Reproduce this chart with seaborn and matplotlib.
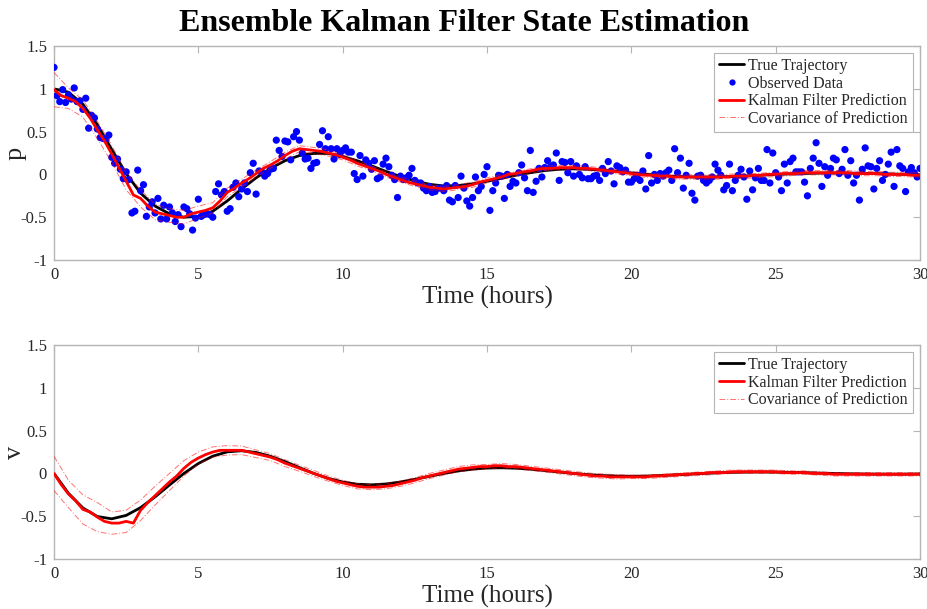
import numpy as np
import matplotlib
matplotlib.use("Agg")
import matplotlib.pyplot as plt
import seaborn as sns
from matplotlib.lines import Line2D

# ---------------- data ----------------
t_obs = np.arange(301) * 0.1      # observation times (hours)
t_coarse = np.arange(61) * 0.5    # grid of true trajectory / covariance
t_fine = np.arange(121) * 0.25    # grid of Kalman filter prediction

obs_p = [
    1.25, 0.92, 0.85, 0.99, 0.84, 0.93, 0.88, 1.01, 0.85, 0.86,
    0.76, 0.89, 0.54, 0.69, 0.66, 0.53, 0.43, 0.42, 0.41, 0.46,
    0.20, 0.13, 0.18, 0.06, -0.05, 0.03, -0.06, -0.45, -0.43, 0.05,
    -0.19, -0.12, -0.49, -0.38, -0.32, -0.45, -0.28, -0.52, -0.36, -0.52,
    -0.38, -0.45, -0.55, -0.47, -0.61, -0.38, -0.40, -0.46, -0.65, -0.51,
    -0.29, -0.49, -0.47, -0.46, -0.47, -0.50, -0.20, -0.11, -0.24, -0.20,
    -0.43, -0.40, -0.15, -0.10, -0.26, -0.17, -0.10, -0.20, 0.02, 0.13,
    -0.23, 0.04, 0.03, -0.02, 0.01, 0.06, 0.07, 0.40, 0.28, 0.21,
    0.39, 0.38, 0.17, 0.44, 0.50, 0.40, 0.25, 0.18, 0.19, 0.07,
    0.13, 0.14, 0.35, 0.51, 0.30, 0.44, 0.30, 0.18, 0.30, 0.23,
    0.28, 0.31, 0.26, 0.26, 0.01, -0.06, 0.22, -0.02, 0.17, 0.13,
    0.06, 0.16, -0.05, -0.03, 0.12, 0.19, 0.09, -0.01, -0.06, -0.27,
    -0.02, -0.06, -0.04, -0.01, 0.07, -0.07, -0.10, -0.10, -0.16, -0.19,
    -0.14, -0.21, -0.20, -0.16, -0.16, -0.19, -0.13, -0.30, -0.32, -0.13,
    -0.27, -0.02, -0.16, -0.31, -0.37, -0.27, -0.03, -0.19, -0.14, 0.00,
    0.09, -0.42, -0.19, -0.10, -0.01, -0.02, -0.28, 0.00, -0.14, -0.08,
    -0.10, 0.02, 0.11, -0.04, -0.19, 0.28, -0.21, -0.08, 0.07, -0.03,
    0.08, 0.16, 0.09, 0.11, 0.25, -0.07, 0.15, 0.14, 0.02, 0.15,
    -0.02, 0.10, 0.00, -0.04, 0.09, -0.05, -0.05, -0.02, -0.01, -0.07,
    0.07, 0.01, 0.15, 0.04, -0.11, 0.10, 0.08, 0.03, 0.05, -0.09,
    -0.09, -0.05, -0.01, -0.07, 0.04, -0.17, 0.22, -0.10, 0.00, -0.07,
    0.01, -0.02, 0.02, 0.05, -0.07, 0.30, 0.02, 0.19, -0.16, -0.01,
    0.13, -0.22, -0.30, -0.02, -0.01, -0.07, -0.10, -0.07, -0.03, 0.12,
    0.05, -0.01, -0.18, -0.13, 0.12, -0.19, -0.07, -0.01, 0.06, -0.03,
    -0.29, 0.04, -0.18, -0.04, 0.07, -0.07, -0.07, 0.29, -0.10, 0.25,
    0.02, -0.03, -0.19, 0.12, -0.10, 0.15, 0.19, 0.03, 0.03, 0.03,
    -0.09, -0.25, 0.07, 0.19, 0.37, 0.13, -0.14, 0.09, -0.01, 0.07,
    0.19, 0.17, 0.01, 0.06, 0.29, -0.01, 0.16, -0.10, -0.01, -0.30,
    0.06, 0.31, 0.10, 0.09, -0.17, 0.07, 0.16, -0.07, 0.00, 0.12,
    0.26, -0.14, 0.29, 0.10, 0.07, -0.20, 0.03, 0.08, 0.02, -0.03,
    0.07,
]

true_p = [
    1.00, 0.96, 0.82, 0.58, 0.29, 0.01, -0.22, -0.37, -0.46, -0.50,
    -0.49, -0.43, -0.31, -0.17, -0.04, 0.07, 0.16, 0.22, 0.245, 0.245,
    0.21, 0.16, 0.10, 0.035, -0.025, -0.075, -0.115, -0.135, -0.13, -0.11,
    -0.08, -0.045, -0.01, 0.02, 0.045, 0.06, 0.065, 0.06, 0.05, 0.035,
    0.018, 0.002, -0.012, -0.023, -0.029, -0.031, -0.029, -0.024, -0.017, -0.009,
    -0.001, 0.006, 0.011, 0.015, 0.016, 0.015, 0.012, 0.009, 0.005, 0.001,
    -0.003,
]

true_v = [
    0.0, -0.232, -0.403, -0.503, -0.530, -0.490, -0.399, -0.274, -0.135, 0.0,
    0.116, 0.202, 0.252, 0.265, 0.245, 0.200, 0.138, 0.068, 0.0, -0.058,
    -0.100, -0.126, -0.133, -0.123, -0.100, -0.069, -0.034, 0.0, 0.029, 0.050,
    0.063, 0.066, 0.061, 0.050, 0.034, 0.017, 0.0, -0.014, -0.025, -0.031,
    -0.033, -0.031, -0.025, -0.017, -0.009, 0.0, 0.007, 0.013, 0.016, 0.017,
    0.015, 0.013, 0.009, 0.004, 0.0, -0.004, -0.006, -0.008, -0.008, -0.008,
    -0.006,
]

kf_p = [
    0.99, 0.92, 0.89, 0.85,
    0.77, 0.66, 0.52, 0.39,
    0.24, 0.08, -0.08, -0.24,
    -0.28, -0.37, -0.44, -0.46,
    -0.48, -0.50, -0.50, -0.46,
    -0.44, -0.42, -0.39, -0.31,
    -0.21, -0.16, -0.10, -0.05,
    0.01, 0.07, 0.11, 0.16,
    0.22, 0.27, 0.30, 0.29,
    0.28, 0.27, 0.25, 0.23,
    0.20, 0.17, 0.13, 0.10,
    0.07, 0.04, 0.00, -0.03,
    -0.06, -0.09, -0.11, -0.13,
    -0.15, -0.16, -0.17, -0.16,
    -0.15, -0.14, -0.12, -0.09,
    -0.07, -0.05, -0.03, 0.00,
    0.01, 0.03, 0.04, 0.06,
    0.07, 0.07, 0.08, 0.08,
    0.08, 0.07, 0.07, 0.06,
    0.05, 0.04, 0.03, 0.02,
    0.01, 0.00, -0.01, -0.01,
    -0.02, -0.02, -0.03, -0.03,
    -0.03, -0.03, -0.03, -0.03,
    -0.03, -0.03, -0.02, -0.02,
    -0.02, -0.01, -0.01, 0.00,
    0.00, 0.01, 0.01, 0.01,
    0.02, 0.02, 0.02, 0.02,
    0.02, 0.02, 0.02, 0.01,
    0.01, 0.01, 0.01, 0.00,
    0.00, 0.00, 0.00, -0.01,
    -0.01,
]

kf_v = [
    0.00, -0.13, -0.24, -0.32,
    -0.42, -0.45, -0.51, -0.56,
    -0.58, -0.58, -0.56, -0.58,
    -0.43, -0.34, -0.26, -0.18,
    -0.10, -0.03, 0.06, 0.13,
    0.18, 0.22, 0.25, 0.27,
    0.27, 0.27, 0.27, 0.25,
    0.23, 0.21, 0.19, 0.16,
    0.12, 0.09, 0.06, 0.03,
    0.00, -0.03, -0.06, -0.09,
    -0.11, -0.13, -0.15, -0.16,
    -0.16, -0.16, -0.15, -0.14,
    -0.12, -0.10, -0.08, -0.05,
    -0.03, -0.01, 0.01, 0.03,
    0.05, 0.06, 0.07, 0.08,
    0.08, 0.09, 0.09, 0.08,
    0.08, 0.07, 0.06, 0.05,
    0.04, 0.03, 0.02, 0.01,
    0.00, -0.01, -0.02, -0.03,
    -0.03, -0.04, -0.04, -0.04,
    -0.04, -0.04, -0.04, -0.03,
    -0.03, -0.02, -0.02, -0.01,
    -0.01, 0.00, 0.00, 0.01,
    0.01, 0.01, 0.02, 0.02,
    0.02, 0.02, 0.02, 0.02,
    0.02, 0.01, 0.01, 0.01,
    0.01, 0.00, 0.00, 0.00,
    -0.01, -0.01, -0.01, -0.01,
    -0.01, -0.01, -0.01, -0.01,
    -0.01, -0.01, -0.01, -0.01,
    -0.01,
]

# spread of prediction (half-width of covariance band), on the coarse grid
p_sd = [
    0.20, 0.12, 0.10, 0.10, 0.10, 0.10, 0.10, 0.09, 0.08, 0.08,
    0.07, 0.06, 0.05, 0.045, 0.04, 0.04, 0.04, 0.035, 0.035, 0.035,
    0.03, 0.03, 0.03, 0.03, 0.03, 0.03, 0.03, 0.03, 0.03, 0.03,
    0.03, 0.03, 0.025, 0.025, 0.025, 0.025, 0.025, 0.025, 0.025, 0.025,
    0.025, 0.025, 0.025, 0.025, 0.025, 0.025, 0.025, 0.025, 0.025, 0.025,
    0.025, 0.025, 0.025, 0.025, 0.025, 0.025, 0.025, 0.025, 0.025, 0.025,
    0.025,
]
v_sd = [
    0.20, 0.16, 0.17, 0.17, 0.13, 0.13, 0.12, 0.11, 0.10, 0.09,
    0.07, 0.06, 0.055, 0.05, 0.045, 0.04, 0.04, 0.035, 0.035, 0.03,
    0.03, 0.03, 0.03, 0.03, 0.03, 0.03, 0.03, 0.03, 0.03, 0.03,
    0.025, 0.025, 0.025, 0.025, 0.025, 0.025, 0.025, 0.025, 0.025, 0.025,
    0.02, 0.02, 0.02, 0.02, 0.02, 0.02, 0.02, 0.02, 0.02, 0.02,
    0.02, 0.02, 0.02, 0.02, 0.02, 0.02, 0.02, 0.02, 0.02, 0.02,
    0.02,
]

x_ticks = [0, 5, 10, 15, 20, 25, 30]
y_ticks = [-1, -0.5, 0, 0.5, 1, 1.5]
y_ticklabels = ["-1", "-0.5", "0", "0.5", "1", "1.5"]

# ---------------- style ----------------
sns.set_theme(style="white")
plt.rcParams["font.family"] = ["Liberation Serif", "DejaVu Serif"]
plt.rcParams["axes.unicode_minus"] = False

GRID_GRAY = "#b5b5b5"
TEXT_GRAY = "#262626"
COV_STYLE = dict(color="#ff0000", alpha=0.55, linewidth=0.7,
                 linestyle=(0, (6, 2, 1, 2)))

fig = plt.figure(figsize=(9.28, 6.09), dpi=100)
ax1 = fig.add_axes([0.0582, 0.573, 0.9332, 0.3515])
ax2 = fig.add_axes([0.0582, 0.082, 0.9332, 0.3515])


def style_axes(ax, ylab):
    ax.set_xlim(0, 30)
    ax.set_ylim(-1, 1.5)
    ax.set_xticks(x_ticks)
    ax.set_xticklabels([str(x) for x in x_ticks])
    ax.set_yticks(y_ticks)
    ax.set_yticklabels(y_ticklabels)
    for s in ax.spines.values():
        s.set_color(GRID_GRAY)
        s.set_linewidth(1.0)
        s.set_visible(True)
    ax.tick_params(direction="in", top=True, right=True, length=5, width=0.8,
                   color=GRID_GRAY, labelcolor=TEXT_GRAY, labelsize=12, pad=5)
    ax.set_xlabel("Time (hours)", fontsize=18, color=TEXT_GRAY, labelpad=2)
    ax.set_ylabel(ylab, fontsize=19, color=TEXT_GRAY)
    ax.yaxis.set_label_coords(-0.032, 0.5)
    ax.grid(False)


kf_p_arr = np.array(kf_p)
kf_v_arr = np.array(kf_v)
p_sd_arr = np.array(p_sd)
v_sd_arr = np.array(v_sd)

# ---------------- top: position ----------------
sns.lineplot(x=t_coarse, y=true_p, ax=ax1, color="black", linewidth=2.0,
             sort=False, errorbar=None, zorder=2)
sns.scatterplot(x=t_obs, y=obs_p, ax=ax1, color="#0000ff", s=27,
                edgecolor="none", linewidth=0, zorder=3)
sns.lineplot(x=t_fine, y=kf_p, ax=ax1, color="#ff0000", linewidth=2.0,
             sort=False, errorbar=None, zorder=4)
for sign in (1, -1):
    sns.lineplot(x=t_coarse, y=kf_p_arr[::2] + sign * p_sd_arr, ax=ax1,
                 sort=False, errorbar=None, zorder=5, **COV_STYLE)
style_axes(ax1, "p")

# ---------------- bottom: velocity ----------------
sns.lineplot(x=t_coarse, y=true_v, ax=ax2, color="black", linewidth=2.0,
             sort=False, errorbar=None, zorder=2)
sns.lineplot(x=t_fine, y=kf_v, ax=ax2, color="#ff0000", linewidth=2.0,
             sort=False, errorbar=None, zorder=4)
for sign in (1, -1):
    sns.lineplot(x=t_coarse, y=kf_v_arr[::2] + sign * v_sd_arr, ax=ax2,
                 sort=False, errorbar=None, zorder=5, **COV_STYLE)
style_axes(ax2, "v")

# ---------------- legends ----------------
h_true = Line2D([], [], color="black", linewidth=2.0)
h_obs = Line2D([], [], color="#0000ff", marker="o", markersize=4.5,
               linestyle="none", markeredgewidth=0)
h_kf = Line2D([], [], color="#ff0000", linewidth=2.0)
h_cov = Line2D([], [], **COV_STYLE)

leg_kw = dict(loc="upper right", fontsize=11.5, frameon=True, fancybox=False,
              edgecolor=GRID_GRAY, framealpha=1.0, handlelength=1.6,
              handletextpad=0.25, labelspacing=0.1, borderpad=0.3,
              borderaxespad=0.45)
l1 = ax1.legend([h_true, h_obs, h_kf, h_cov],
                ["True Trajectory", "Observed Data", "Kalman Filter Prediction",
                 "Covariance of Prediction"], **leg_kw)
l2 = ax2.legend([h_true, h_kf, h_cov],
                ["True Trajectory", "Kalman Filter Prediction",
                 "Covariance of Prediction"], **leg_kw)
for lg in (l1, l2):
    lg.get_frame().set_linewidth(0.8)

fig.suptitle("Ensemble Kalman Filter State Estimation", fontsize=23,
             fontweight="bold", y=0.985, va="top", color="black")

fig.savefig("out.png", dpi=100)
